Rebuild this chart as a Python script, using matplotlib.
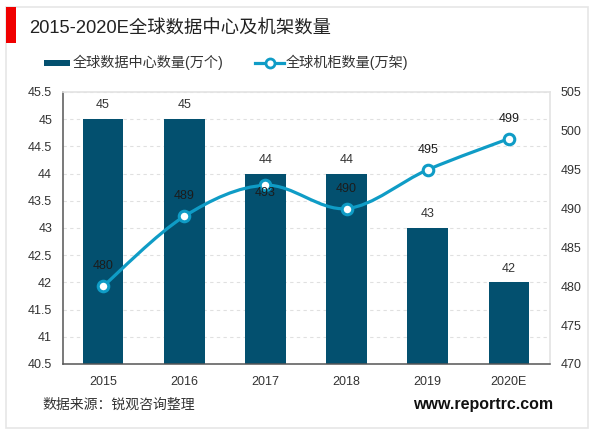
import matplotlib as mpl
mpl.use('Agg')
import matplotlib.pyplot as plt
from matplotlib.patches import Rectangle, PathPatch
from matplotlib.path import Path
from matplotlib.lines import Line2D
import numpy as np

plt.rcParams['font.family'] = ['Liberation Sans', 'Noto Sans CJK SC']

years = ['2015', '2016', '2017', '2018', '2019', '2020E']
centers = [45, 45, 44, 44, 43, 42]
racks = [480, 489, 493, 490, 495, 499]
left_ticks = [40.5, 41, 41.5, 42, 42.5, 43, 43.5, 44, 44.5, 45, 45.5]
right_ticks = [470, 475, 480, 485, 490, 495, 500, 505]
left_labels = ['40.5', '41', '41.5', '42', '42.5', '43', '43.5', '44', '44.5', '45', '45.5']

BAR = '#03506f'
LINE = '#0f9cc6'
TXT = '#333333'
W, H = 600, 433


def smooth_path(xs, ys):
    # excel style smoothed line, bezier through the points
    xs = np.array(xs, dtype=float)
    ys = np.array(ys, dtype=float)
    verts = [(xs[0], ys[0])]
    codes = [Path.MOVETO]
    for i in range(len(xs) - 1):
        x0, y0 = (xs[i-1], ys[i-1]) if i > 0 else (xs[i], ys[i])
        x3, y3 = (xs[i+2], ys[i+2]) if i + 2 < len(xs) else (xs[i+1], ys[i+1])
        c1 = (xs[i] + (xs[i+1] - x0) / 6, ys[i] + (ys[i+1] - y0) / 6)
        c2 = (xs[i+1] - (x3 - xs[i]) / 6, ys[i+1] - (y3 - ys[i]) / 6)
        verts += [c1, c2, (xs[i+1], ys[i+1])]
        codes += [Path.CURVE4] * 3
    return Path(verts, codes)


fig = plt.figure(figsize=(W / 100, H / 100), dpi=100)

# card and red mark
fig.add_artist(Rectangle((6 / W, 1 - 428 / H), 582 / W, 421 / H, transform=fig.transFigure,
                         fc='white', ec='#e6e6e6', lw=1.2, zorder=-2))
fig.add_artist(Rectangle((6 / W, 1 - 43 / H), 10 / W, 36 / H, transform=fig.transFigure,
                         fc='#f00000', ec='none', zorder=-1))

ax = fig.add_axes([62.5 / W, 1 - 364 / H, 487 / W, 272 / H])
ax.patch.set_alpha(0)
x = np.arange(len(years))
ax.bar(x, centers, width=0.5, color=BAR, zorder=2)
ax.set_xlim(-0.5, 5.5)
ax.set_ylim(40.5, 45.5)
ax.set_xticks(x)
ax.set_xticklabels(years, fontsize=9, color=TXT)
ax.set_yticks(left_ticks)
ax.set_yticklabels(left_labels, fontsize=9, color=TXT)
ax.tick_params(length=0)
ax.tick_params(axis='y', pad=7.5)
ax.tick_params(axis='x', pad=8.5)
ax.grid(True, axis='y', ls=(0, (3, 3)), color='#e0e0e0', lw=0.8, zorder=0)
ax.set_axisbelow(True)
for s in ['top', 'right']:
    ax.spines[s].set_color('#e3e3e3')
    ax.spines[s].set_linewidth(1.2)
for s in ['left', 'bottom']:
    ax.spines[s].set_color('#555555')
    ax.spines[s].set_linewidth(1.1)
for xi, v in zip(x, centers):
    ax.annotate(str(v), (xi, v), xytext=(0, 10), textcoords='offset points', ha='center', va='center',
                fontsize=9, color=TXT, zorder=6)

ax2 = ax.twinx()
ax2.set_ylim(470, 505)
ax2.set_yticks(right_ticks)
ax2.tick_params(length=0, pad=8, labelsize=9, labelcolor=TXT)
for s in ax2.spines.values():
    s.set_visible(False)
ax2.add_patch(PathPatch(smooth_path(x, racks), fc='none', ec=LINE, lw=2.3, zorder=3))
ax2.plot(x, racks, ls='none', marker='o', ms=7.6, mfc='white', mec=LINE, mew=2.2, zorder=4)
offsets = [14.4, 14.4, -5.8, 14.4, 14.4, 14.4]
for xi, v, off in zip(x, racks, offsets):
    ax2.annotate(str(v), (xi, v), xytext=(0, off), textcoords='offset points', ha='center', va='center',
                 fontsize=9, color='#1c1c1c', zorder=6)

# title, legend, footer
fig.text(29 / W, 1 - 29 / H, '2015-2020E全球数据中心及机架数量', fontsize=13.2, color='#222222',
         va='center', ha='left')
fig.add_artist(Rectangle((44 / W, 1 - 66 / H), 26 / W, 6 / H, transform=fig.transFigure,
                         fc=BAR, ec='none'))
fig.text(73 / W, 1 - 62 / H, '全球数据中心数量(万个)', fontsize=10.2, color=TXT, va='center')
fig.add_artist(Line2D([255 / W, 284 / W], [1 - 63 / H] * 2, transform=fig.transFigure, color=LINE, lw=2.3,
                      zorder=3))
fig.add_artist(Line2D([269.5 / W], [1 - 63 / H], transform=fig.transFigure, ls='none', marker='o', ms=6.5,
                      mfc='white', mec=LINE, mew=2, zorder=4))
fig.text(286 / W, 1 - 62 / H, '全球机柜数量(万架)', fontsize=10.2, color=TXT, va='center')
fig.text(42 / W, 1 - 405 / H, '数据来源：锐观咨询整理', fontsize=10, color=TXT, va='center')
fig.text(553 / W, 1 - 405 / H, 'www.reportrc.com', fontsize=11.5, color='#111111', fontweight='bold',
         va='center', ha='right')

fig.savefig('out.png', dpi=100)
